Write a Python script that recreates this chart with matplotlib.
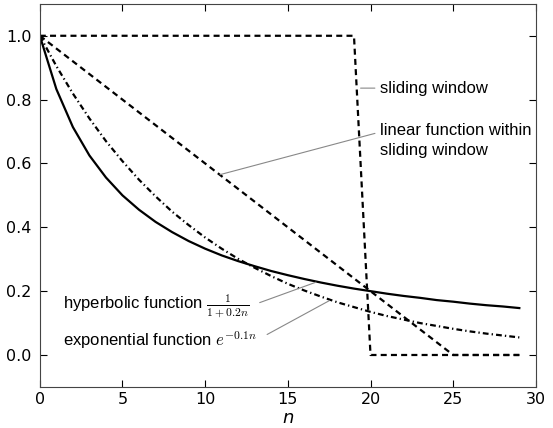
import matplotlib
matplotlib.use("Agg")
from matplotlib import pyplot as plt

n = list(range(30))
hyperbolic = [1.0, 0.833, 0.714, 0.625, 0.556, 0.5, 0.455, 0.417, 0.385, 0.357,
              0.333, 0.312, 0.294, 0.278, 0.263, 0.25, 0.238, 0.227, 0.217, 0.208,
              0.2, 0.192, 0.185, 0.179, 0.172, 0.167, 0.161, 0.156, 0.152, 0.147]
exponential = [1.0, 0.905, 0.819, 0.741, 0.670, 0.607, 0.549, 0.497, 0.449, 0.407,
               0.368, 0.333, 0.301, 0.273, 0.247, 0.223, 0.202, 0.183, 0.165, 0.150,
               0.135, 0.122, 0.111, 0.100, 0.091, 0.082, 0.074, 0.067, 0.061, 0.055]
linear = [1.0, 0.96, 0.92, 0.88, 0.84, 0.80, 0.76, 0.72, 0.68, 0.64,
          0.60, 0.56, 0.52, 0.48, 0.44, 0.40, 0.36, 0.32, 0.28, 0.24,
          0.20, 0.16, 0.12, 0.08, 0.04, 0.0, 0.0, 0.0, 0.0, 0.0]
window = [1, 1, 1, 1, 1, 1, 1, 1, 1, 1,
          1, 1, 1, 1, 1, 1, 1, 1, 1, 1,
          0, 0, 0, 0, 0, 0, 0, 0, 0, 0]

fig = plt.figure(figsize=(5.53, 4.28), dpi=100)
ax = fig.add_axes([0.072, 0.096, 0.897, 0.895])

ax.plot(n, hyperbolic, color="k", lw=1.6)
ax.plot(n, exponential, color="k", lw=1.6, dashes=[2.6, 1.4, 0.6, 1.4])
ax.plot(n, linear, color="k", lw=1.6, dashes=[2.7, 1.9])
ax.plot(n, window, color="k", lw=1.6, dashes=[2.7, 1.9])

ax.set_xlim(0, 30)
ax.set_ylim(-0.1, 1.1)
ax.set_yticks([0.0, 0.2, 0.4, 0.6, 0.8, 1.0])
ax.set_xticks([0, 5, 10, 15, 20, 25, 30])
ax.tick_params(direction="in", top=True, right=True, length=5, labelsize=11.5, pad=6)
ax.tick_params(axis="x", pad=4)
for s in ax.spines.values():
    s.set_color("#444444")
ax.set_xlabel("$n$", fontsize=13, labelpad=1)

txt = dict(fontsize=12, family="Liberation Sans", math_fontfamily="cm",
           va="center")


def grey(rel, gap=4):
    return dict(arrowstyle="-", color="#888888", lw=0.8, relpos=rel,
                shrinkA=gap, shrinkB=0)


ax.annotate("sliding window", xy=(19.4, 0.836), xytext=(20.6, 0.836),
            arrowprops=grey((0, 0.5), 2), ha="left", **txt)
ax.annotate("linear function within\nsliding window", xy=(10.9, 0.565),
            xytext=(20.6, 0.672), arrowprops=grey((0, 0.75), 2),
            ha="left", linespacing=1.35, **txt)
ax.annotate(r"hyperbolic function $\frac{1}{1+0.2n}$", xy=(16.7, 0.228),
            xytext=(1.4, 0.152), arrowprops=grey((1, 0.5), 6), ha="left", **txt)
ax.annotate(r"exponential function $e^{-0.1n}$", xy=(17.5, 0.17),
            xytext=(1.4, 0.047), arrowprops=grey((1, 0.5), 6), ha="left", **txt)

fig.savefig("out.png", dpi=100)
